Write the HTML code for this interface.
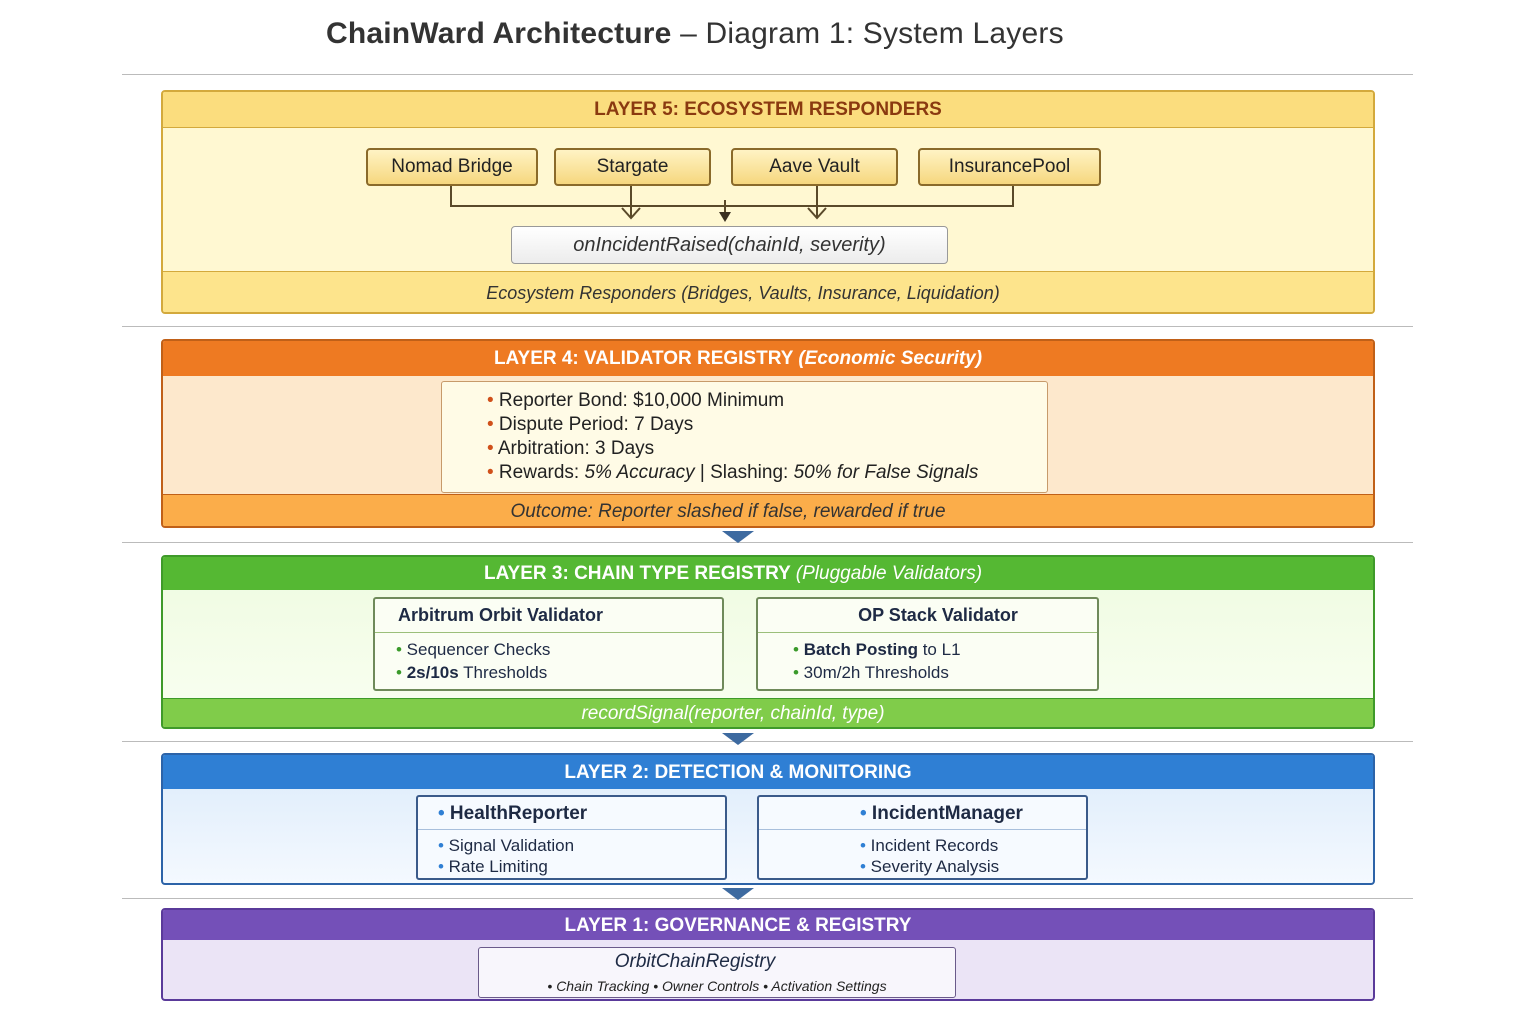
<!DOCTYPE html>
<html><head><meta charset="utf-8"><style>
body{margin:0;width:1536px;height:1024px;background:#fff;position:relative;font-family:"Liberation Sans","DejaVu Sans",sans-serif;overflow:hidden}
.a{position:absolute;box-sizing:border-box}
.hr{position:absolute;left:122px;width:1291px;height:1px;background:#bbb}
.hdr{position:absolute;left:0;right:0;top:0;text-align:center;font-weight:bold;font-size:19px;color:#fff}
.node{position:absolute;box-sizing:border-box;border:2px solid #8a6a2a;border-radius:4px;background:linear-gradient(#fff3c4,#f6d77e);text-align:center;font-size:19px;color:#222;line-height:33px}
.ib{position:absolute;box-sizing:border-box;border-radius:3px;background:#fbfef4}
.li{position:absolute;font-size:17px;color:#1e2a44}
.dot{color:#3a9a2a}
.arr{position:absolute;width:0;height:0;border-left:16px solid transparent;border-right:16px solid transparent;border-top:12px solid #3d6aa0}
</style></head><body>
<div class="a" style="left:326px;top:17px;font-size:30px;color:#333;letter-spacing:0.2px"><b>ChainWard Architecture</b> – Diagram 1: System Layers</div>
<div class="hr" style="top:74px"></div>
<div class="hr" style="top:326px"></div>
<div class="hr" style="top:542px"></div>
<div class="hr" style="top:741px"></div>
<div class="hr" style="top:898px"></div>

<!-- Layer 5 -->
<div class="a" style="left:161px;top:90px;width:1214px;height:224px;border:2px solid #d3a93c;border-radius:4px;background:#fff8d2;overflow:hidden">
<div class="hdr" style="height:35px;line-height:36px;background:#fbdd7e;color:#8a3a10;border-bottom:1px solid #d3a93c">LAYER 5: ECOSYSTEM RESPONDERS</div>
<div class="a" style="left:0;right:50px;top:179px;height:43px;text-align:center;font-style:italic;font-size:18px;line-height:42px;color:#333"></div>
<div class="a" style="left:0;right:0;top:179px;height:43px;background:#fde48c;border-top:1px solid #d3a93c;text-align:center;font-style:italic;font-size:18px;line-height:42px;color:#333;padding-right:50px">Ecosystem Responders (Bridges, Vaults, Insurance, Liquidation)</div>
</div>
<div class="node" style="left:366px;top:148px;width:172px;height:38px">Nomad Bridge</div>
<div class="node" style="left:554px;top:148px;width:157px;height:38px">Stargate</div>
<div class="node" style="left:731px;top:148px;width:167px;height:38px">Aave Vault</div>
<div class="node" style="left:918px;top:148px;width:183px;height:38px">InsurancePool</div>
<svg class="a" style="left:0;top:0" width="1536" height="300">
<g stroke="#5a4a2a" stroke-width="2" fill="none">
<polyline points="451,186 451,206 1013,206 1013,186"/>
<line x1="631" y1="186" x2="631" y2="218"/><polyline points="622,208 631,218 640,208"/>
<line x1="817" y1="186" x2="817" y2="218"/><polyline points="808,208 817,218 826,208"/>
<line x1="725" y1="200" x2="725" y2="214"/></g>
<polygon points="719,212 731,212 725,222" fill="#3a3020"/>
</svg>
<div class="a" style="left:511px;top:226px;width:437px;height:38px;border:1px solid #999;border-radius:4px;background:linear-gradient(#fff,#ececec);text-align:center;font-style:italic;font-size:20px;line-height:36px;color:#333">onIncidentRaised(chainId, severity)</div>

<!-- Layer 4 -->
<div class="a" style="left:161px;top:339px;width:1214px;height:189px;border:2px solid #c06018;border-radius:4px;background:#fde8cc;overflow:hidden">
<div class="hdr" style="height:35px;line-height:35px;background:#ee7a22;padding-right:60px">LAYER 4: VALIDATOR REGISTRY <i>(Economic Security)</i></div>
<div class="a" style="left:0;right:0;top:153px;height:34px;background:#fbad4a;border-top:1px solid #c06018;text-align:center;font-style:italic;font-size:19px;line-height:33px;color:#333;padding-right:80px">Outcome: Reporter slashed if false, rewarded if true</div>
</div>
<div class="a" style="left:441px;top:381px;width:607px;height:112px;border:1px solid #c79a6a;border-radius:3px;background:#fffbe6"></div>
<div class="li" style="left:487px;top:389px;font-size:19px;line-height:24px;color:#222">
<span style="color:#d0501a">•</span> Reporter Bond: $10,000 Minimum<br>
<span style="color:#d0501a">•</span> Dispute Period: 7 Days<br>
<span style="color:#d0501a">•</span> Arbitration: 3 Days<br>
<span style="color:#d0501a">•</span> Rewards: <i>5% Accuracy</i> | Slashing: <i>50% for False Signals</i></div>
<div class="arr" style="left:722px;top:531px"></div>

<!-- Layer 3 -->
<div class="a" style="left:161px;top:555px;width:1214px;height:174px;border:2px solid #3f9a2a;border-radius:4px;background:linear-gradient(#eefbe0,#fafff2);overflow:hidden">
<div class="hdr" style="height:33px;line-height:34px;background:#55b833;padding-right:70px">LAYER 3: CHAIN TYPE REGISTRY <i style="font-weight:normal">(Pluggable Validators)</i></div>
<div class="a" style="left:0;right:0;top:141px;height:31px;background:#80cc4a;border-top:1px solid #3f9a2a;text-align:center;font-style:italic;font-size:19px;line-height:30px;color:#fff;padding-right:70px">recordSignal(reporter, chainId, type)</div>
</div>
<div class="ib" style="left:373px;top:597px;width:351px;height:94px;border:2px solid #6f8a5a"></div>
<div class="a" style="left:375px;top:632px;width:347px;height:1px;background:#9bbf7a"></div>
<div class="li" style="left:398px;top:605px;font-weight:bold;font-size:18px">Arbitrum Orbit Validator</div>
<div class="li" style="left:396px;top:638px;line-height:23px"><span class="dot">•</span> Sequencer Checks<br><span class="dot">•</span> <b>2s/10s</b> Thresholds</div>
<div class="ib" style="left:756px;top:597px;width:343px;height:94px;border:2px solid #6f8a5a"></div>
<div class="a" style="left:758px;top:632px;width:339px;height:1px;background:#9bbf7a"></div>
<div class="li" style="left:756px;width:364px;text-align:center;top:605px;font-weight:bold;font-size:18px">OP Stack Validator</div>
<div class="li" style="left:793px;top:638px;line-height:23px"><span class="dot">•</span> <b>Batch Posting</b> to L1<br><span class="dot">•</span> 30m/2h Thresholds</div>
<div class="arr" style="left:722px;top:733px"></div>

<!-- Layer 2 -->
<div class="a" style="left:161px;top:753px;width:1214px;height:132px;border:2px solid #2c63a8;border-radius:4px;background:linear-gradient(#dcebfa,#f4f9ff);overflow:hidden">
<div class="hdr" style="height:34px;line-height:35px;background:#2f7fd4;padding-right:60px">LAYER 2: DETECTION &amp; MONITORING</div>
</div>
<div class="ib" style="left:416px;top:795px;width:311px;height:85px;border:2px solid #3a5a8a;background:#f6faff"></div>
<div class="a" style="left:418px;top:829px;width:307px;height:1px;background:#a8bfdc"></div>
<div class="li" style="left:438px;top:803px;font-weight:bold;font-size:19px"><span style="color:#2f7fd4">•</span> HealthReporter</div>
<div class="li" style="left:438px;top:835px;line-height:21px"><span style="color:#2f7fd4">•</span> Signal Validation<br><span style="color:#2f7fd4">•</span> Rate Limiting</div>
<div class="ib" style="left:757px;top:795px;width:331px;height:85px;border:2px solid #3a5a8a;background:#f6faff"></div>
<div class="a" style="left:759px;top:829px;width:327px;height:1px;background:#a8bfdc"></div>
<div class="li" style="left:860px;top:803px;font-weight:bold;font-size:19px"><span style="color:#2f7fd4">•</span> IncidentManager</div>
<div class="li" style="left:860px;top:835px;line-height:21px"><span style="color:#2f7fd4">•</span> Incident Records<br><span style="color:#2f7fd4">•</span> Severity Analysis</div>
<div class="arr" style="left:722px;top:888px"></div>

<!-- Layer 1 -->
<div class="a" style="left:161px;top:908px;width:1214px;height:93px;border:2px solid #5a3a9a;border-radius:4px;background:#ebe4f6;overflow:hidden">
<div class="hdr" style="height:30px;line-height:31px;background:#7450b8;padding-right:60px">LAYER 1: GOVERNANCE &amp; REGISTRY</div>
</div>
<div class="ib" style="left:478px;top:947px;width:478px;height:51px;border:1px solid #6a5a8a;background:#f8f6fc"></div>
<div class="li" style="left:478px;width:434px;text-align:center;top:951px;font-style:italic;font-size:19px">OrbitChainRegistry</div>
<div class="li" style="left:478px;width:478px;text-align:center;top:978px;font-style:italic;font-size:14px;color:#222">• Chain Tracking • Owner Controls • Activation Settings</div>
</body></html>
